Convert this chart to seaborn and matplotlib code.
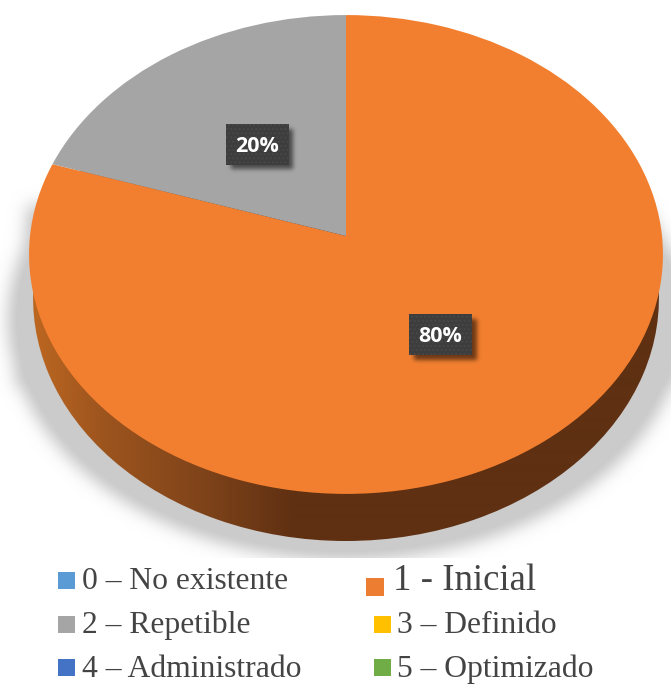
import numpy as np
import matplotlib
matplotlib.use("Agg")
import matplotlib.pyplot as plt
from matplotlib.patches import Rectangle
from matplotlib.transforms import Transform
import seaborn as sns

# Maturity levels and their share of responses
categories = ["0 – No existente", "1 - Inicial", "2 – Repetible",
              "3 – Definido", "4 – Administrado", "5 – Optimizado"]
shares = [0, 80, 20, 0, 0, 0]
level_colors = ["#5B9BD5", "#F27F30", "#A5A5A5", "#FFC000", "#4472C4", "#70AD47"]
swatch_colors = ["#5B9BD5", "#ED7D31", "#A5A5A5", "#FFC000", "#4472C4", "#70AD47"]

W, H = 671, 684
sns.set_theme(style="white")
plt.rcParams["font.family"] = ["Liberation Serif", "DejaVu Serif"]
plt.rcParams["hatch.linewidth"] = 1.1
palette = sns.color_palette(level_colors)


class TiltedDisc(Transform):
    """Projects the unit disc onto a plane tilted away from the viewer."""
    input_dims = output_dims = 2
    is_separable = False
    has_inverse = False

    def __init__(self, cx, cy, bx, ay, k):
        super().__init__()
        self.cx, self.cy, self.bx, self.ay, self.k = cx, cy, bx, ay, k

    def transform_non_affine(self, values):
        x, y = np.asarray(values).T
        w = 1 + self.k * y
        return np.column_stack([self.cx + self.bx * x / w, self.cy - self.ay * y / w])


def blur(a, sigma):
    r = int(3 * sigma)
    g = np.exp(-0.5 * (np.arange(-r, r + 1) / sigma) ** 2)
    g /= g.sum()
    a = np.apply_along_axis(lambda v: np.convolve(v, g, mode="same"), 0, a)
    return np.apply_along_axis(lambda v: np.convolve(v, g, mode="same"), 1, a)


fig = plt.figure(figsize=(W / 100, H / 100), dpi=100, facecolor="white")
ax = fig.add_axes([0, 0, 1, 1])
PAD = 40
xx, yy = np.meshgrid(np.arange(-PAD, W + PAD) + 0.5, np.arange(-PAD, H + PAD) + 0.5)

# Soft drop shadow below the disc, with narrow strips along its flanks
round_part = ((xx - 346) / 338) ** 2 + ((yy - 320) / 240) ** 2 < 1
left_edge = 14 + (385 - yy) * 16 / 210
flank_top = np.where(xx < 346, 205, 255)
flanks = (yy > flank_top) & (yy < 385) & (xx > left_edge) & (xx < 678)
shadow = blur((round_part | flanks).astype(float), 8)
shadow[yy > 558] = 0
shadow_rgba = np.zeros(shadow.shape + (4,))
shadow_rgba[..., :3] = 203 / 255
shadow_rgba[..., 3] = np.clip(shadow * 1.15, 0, 1)
full_extent = (-PAD, W + PAD, H + PAD, -PAD)
ax.imshow(shadow_rgba, extent=full_extent, aspect="auto", zorder=1, interpolation="bilinear")

# Side wall: a lower disc filled with a horizontal shading ramp
side_disc = TiltedDisc(346, 279.3, 312, 241.5, 0.0772)
side, _ = ax.pie([1], radius=1, colors=["none"], wedgeprops={"linewidth": 0})
side[0].set_transform(side_disc + ax.transData)
ramp_x = np.arange(W) + 0.5
ramp = np.column_stack([
    np.interp(ramp_x, [30, 100, 200, 295], stop)
    for stop in ([190, 158, 128, 95], [104, 85, 68, 48], [33, 30, 26, 18])
]) / 255
wall = ax.imshow(ramp[np.newaxis, :, :], extent=(0, W, H, 0), aspect="auto",
                 zorder=2, interpolation="bilinear")
wall.set_clip_path(side[0])

# Top face of the pie
top_disc = TiltedDisc(346, 236, 316, 238, 0.0772)
wedges, _ = ax.pie(shares, colors=palette, startangle=90, counterclock=False,
                   radius=1, wedgeprops={"linewidth": 0, "zorder": 3})
for wedge in wedges:
    wedge.set_transform(top_disc + ax.transData)

# Percentage tags with their shadows
tag_centers = {1: (440.5, 334.5), 2: (257, 144)}
tag_w, tag_h = 63, 41
tag_shadow = np.zeros_like(xx)
for cx, cy in tag_centers.values():
    tag_shadow[(abs(xx - cx - 5) < tag_w / 2) & (abs(yy - cy - 5) < tag_h / 2)] = 1
tag_shadow = blur(tag_shadow, 2.2)
tag_rgba = np.zeros(tag_shadow.shape + (4,))
tag_rgba[..., 3] = tag_shadow * 0.55
ax.imshow(tag_rgba, extent=full_extent, aspect="auto", zorder=4, interpolation="bilinear")
for i, (cx, cy) in tag_centers.items():
    ax.add_patch(Rectangle((cx - tag_w / 2, cy - tag_h / 2), tag_w, tag_h, facecolor="#3D3D3D",
                           edgecolor="#474747", hatch="....", linewidth=0, zorder=5))
    ax.text(cx, cy + 2.5, f"{shares[i]}%", color="white", fontsize=15.5, fontweight="bold",
            family="Open Sans", ha="center", va="center", zorder=6)

# Legend laid out in two columns
swatch_boxes = [(58, 572, 17, 17), (366, 578, 18, 18), (58, 616, 17, 17),
                (374, 616, 17, 17), (58, 659, 17, 17), (374, 659, 17, 17)]
text_anchors = [(82, 589, 22.8), (393, 590, 26.5), (82, 633, 22.8),
                (397, 633, 22.8), (82, 677, 22.8), (397, 677, 22.8)]
for name, color, (sx, sy, sw, sh), (tx, ty, fs) in zip(categories, swatch_colors, swatch_boxes, text_anchors):
    ax.add_patch(Rectangle((sx, sy), sw, sh, facecolor=color, linewidth=0, zorder=5))
    ax.text(tx, ty, name, color="#444444", fontsize=fs, ha="left", va="baseline", zorder=6)

ax.set_aspect("auto")
ax.set_xlim(0, W)
ax.set_ylim(H, 0)
ax.axis("off")
fig.savefig("out.png", dpi=100, facecolor="white")
